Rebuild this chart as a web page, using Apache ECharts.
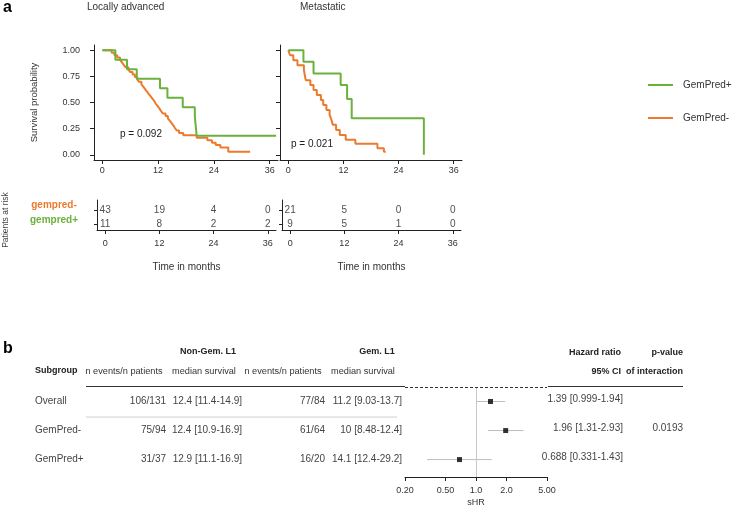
<!DOCTYPE html>
<html><head><meta charset="utf-8">
<script src="https://cdn.jsdelivr.net/npm/echarts@6/dist/echarts.min.js"></script>
<style>html,body{margin:0;padding:0;background:#fff}#c{width:736px;height:508px}</style>
</head><body><div id="c"></div>
<script>
// ================= DATA =================
const timeTicks = [0, 12, 24, 36];
const survTicks = [0, 0.25, 0.5, 0.75, 1];
// Kaplan-Meier steps [month, survival]
const laGemPredPos = [[0,1],[2.8,0.909],[5.3,0.818],[7.4,0.727],[12.4,0.636],[14.0,0.545],[17.3,0.455],[19.9,0.364],[20.1,0.273],[20.3,0.182],[37.4,0.182]];
const laGemPredNeg = [[0,1],[2.0,0.977],[2.6,0.953],[3.2,0.93],[3.8,0.907],[4.2,0.884],[4.6,0.86],[5.0,0.837],[5.6,0.814],[6.0,0.791],[6.5,0.767],[7.0,0.744],[7.5,0.721],[7.9,0.698],[8.4,0.674],[8.8,0.651],[9.2,0.628],[9.6,0.605],[10.0,0.581],[10.4,0.558],[10.8,0.535],[11.2,0.512],[11.5,0.488],[11.9,0.465],[12.3,0.442],[12.6,0.419],[13.0,0.395],[13.6,0.372],[14.1,0.349],[14.5,0.326],[14.9,0.302],[15.3,0.279],[15.6,0.256],[16.0,0.233],[16.5,0.209],[17.4,0.186],[20.3,0.163],[22.6,0.14],[23.6,0.116],[24.4,0.093],[25.4,0.07],[27.1,0.028],[31.8,0.028]];
const metGemPredPos = [[0,1],[3.3,0.889],[5.5,0.778],[11.4,0.667],[12.8,0.533],[13.8,0.35],[29.5,0]];
const metGemPredNeg = [[0,1],[0.4,0.952],[1.1,0.905],[2.0,0.857],[3.4,0.81],[3.8,0.714],[4.8,0.667],[5.5,0.619],[6.2,0.571],[7.1,0.524],[7.6,0.476],[8.3,0.429],[9.0,0.381],[9.4,0.333],[9.7,0.286],[10.4,0.238],[11.2,0.19],[12.5,0.143],[14.6,0.105],[19.4,0.063],[20.8,0.03],[21.2,0.03]];
const pValues = ['p = 0.092', 'p = 0.021'];
// numbers at risk at timeTicks
const riskLaNeg = [43, 19, 4, 0];
const riskLaPos = [11, 8, 2, 2];
const riskMetNeg = [21, 5, 0, 0];
const riskMetPos = [9, 5, 1, 0];
// forest table
const subgroups = ['Overall', 'GemPred-', 'GemPred+'];
const nonGemEvents = ['106/131', '75/94', '31/37'];
const nonGemMedian = ['12.4 [11.4-14.9]', '12.4 [10.9-16.9]', '12.9 [11.1-16.9]'];
const gemEvents = ['77/84', '61/64', '16/20'];
const gemMedian = ['11.2 [9.03-13.7]', '10 [8.48-12.4]', '14.1 [12.4-29.2]'];
const hr = [1.39, 1.96, 0.688];
const hrLow = [0.999, 1.31, 0.331];
const hrHigh = [1.94, 2.93, 1.43];
const pInteraction = ['', '0.0193', ''];
const hrTicks = [0.2, 0.5, 1, 2, 5];
const hrTickLabels = ['0.20', '0.50', '1.0', '2.0', '5.00'];

// ================= STYLE =================
const GREEN = '#6BB13C', ORANGE = '#EC7A2C';
const FONT = 'Liberation Sans, Arial, sans-serif';
const AX = '#222';

const chart = echarts.init(document.getElementById('c'));

function kmX(gi, showLabel) {
  return {
    gridIndex: gi, type: 'value', min: -1.8, max: 37.8,
    axisLine: { show: true, onZero: false, lineStyle: { color: AX, width: 1 } },
    axisTick: { show: true, length: 4, customValues: timeTicks, lineStyle: { color: AX } },
    axisLabel: { show: showLabel, customValues: timeTicks, color: '#333', fontSize: 9, fontFamily: FONT, margin: 6 },
    splitLine: { show: false }
  };
}
function riskX(gi) {
  const a = kmX(gi, true);
  a.axisLabel.margin = 9;
  a.name = 'Time in months';
  a.nameLocation = 'middle';
  a.nameGap = 32;
  a.nameTextStyle = { color: '#333', fontSize: 10, fontFamily: FONT };
  return a;
}
function kmY(gi, showLabel) {
  return {
    gridIndex: gi, type: 'value', min: -0.05, max: 1.05,
    axisLine: { show: true, onZero: false, lineStyle: { color: AX, width: 1 } },
    axisTick: { show: true, length: 4, customValues: survTicks, lineStyle: { color: AX } },
    axisLabel: { show: showLabel, customValues: survTicks, formatter: v => v.toFixed(2), color: '#333', fontSize: 9, fontFamily: FONT, margin: 14 },
    splitLine: { show: false },
    name: showLabel ? 'Survival probability' : '',
    nameLocation: 'middle', nameGap: 55,
    nameTextStyle: { color: '#333', fontSize: 9.5, fontFamily: FONT }
  };
}
function riskY(gi) {
  return {
    gridIndex: gi, type: 'value', min: -0.45, max: 1.8,
    axisLine: { show: true, onZero: false, lineStyle: { color: AX, width: 1 } },
    axisTick: { show: true, length: 3, customValues: [0, 1], lineStyle: { color: AX } },
    axisLabel: { show: false }, splitLine: { show: false }
  };
}
function km(name, data, color, gi) {
  return {
    name, type: 'line', step: 'end', data, xAxisIndex: gi, yAxisIndex: gi,
    showSymbol: false, symbol: 'none', color,
    lineStyle: { color, width: 2 }, silent: true
  };
}
function risk(counts, row, gi) {
  return {
    type: 'scatter', xAxisIndex: gi, yAxisIndex: gi, symbolSize: 1,
    itemStyle: { color: 'rgba(0,0,0,0)' },
    data: counts.map((c, i) => [timeTicks[i], row, c]),
    label: { show: true, position: 'inside', formatter: p => String(p.value[2]), color: '#222', fontSize: 10, fontFamily: FONT },
    silent: true
  };
}
const L10 = Math.log10;

const option = {
  animation: false,
  backgroundColor: '#fff',
  textStyle: { fontFamily: FONT },
  legend: {
    orient: 'vertical', left: 643, top: 75, itemWidth: 25, itemHeight: 2, itemGap: 23,
    icon: 'rect', data: ['GemPred+', 'GemPred-'],
    textStyle: { color: '#333', fontSize: 10, fontFamily: FONT, padding: [0, 0, 0, 5] },
    selectedMode: false
  },
  grid: [
    { left: 94, top: 45, width: 184, height: 115 },
    { left: 280, top: 45, width: 182, height: 115 },
    { left: 97, top: 200, width: 179, height: 30 },
    { left: 282, top: 200, width: 179, height: 30 },
    { left: 405, top: 387, width: 142, height: 90 }
  ],
  xAxis: [
    kmX(0, true), kmX(1, true), riskX(2), riskX(3),
    {
      gridIndex: 4, type: 'value', min: L10(0.2), max: L10(5),
      axisLine: { show: true, onZero: false, lineStyle: { color: AX, width: 1.2 } },
      axisTick: { show: true, length: 4, customValues: hrTicks.map(L10), lineStyle: { color: AX } },
      axisLabel: {
        show: true, customValues: hrTicks.map(L10), margin: 9, color: '#333', fontSize: 9, fontFamily: FONT,
        formatter: v => { let k = 0, b = 1e9; hrTicks.forEach((t, i) => { const d = Math.abs(L10(t) - v); if (d < b) { b = d; k = i; } }); return hrTickLabels[k]; }
      },
      splitLine: { show: false },
      name: 'sHR', nameLocation: 'middle', nameGap: 21,
      nameTextStyle: { color: '#333', fontSize: 9, fontFamily: FONT }
    }
  ],
  yAxis: [
    kmY(0, true), kmY(1, false), riskY(2), riskY(3),
    { gridIndex: 4, type: 'value', min: -0.5, max: 2.6, inverse: true, show: false }
  ],
  series: [
    km('GemPred-', laGemPredNeg, ORANGE, 0),
    km('GemPred+', laGemPredPos, GREEN, 0),
    km('GemPred-', metGemPredNeg, ORANGE, 1),
    km('GemPred+', metGemPredPos, GREEN, 1),
    risk(riskLaNeg, 1, 2), risk(riskLaPos, 0, 2),
    risk(riskMetNeg, 1, 3), risk(riskMetPos, 0, 3),
    {
      type: 'custom', xAxisIndex: 4, yAxisIndex: 4, silent: true,
      data: hr.map((h, i) => [L10(hrLow[i]), L10(hrHigh[i]), i]),
      encode: { x: [0, 1], y: 2 },
      renderItem: (params, api) => {
        const a = api.coord([api.value(0), api.value(2)]);
        const b = api.coord([api.value(1), api.value(2)]);
        return { type: 'line', shape: { x1: a[0], y1: a[1], x2: b[0], y2: b[1] }, style: { stroke: '#bdbdbd', lineWidth: 1 } };
      },
      markLine: {
        silent: true, symbol: 'none', label: { show: false }, animation: false,
        data: [
          { xAxis: L10(0.2), lineStyle: { color: '#cfcfcf', type: [2, 3], width: 1 } },
          { xAxis: L10(5), lineStyle: { color: '#cfcfcf', type: [2, 3], width: 1 } },
          { xAxis: 0, lineStyle: { color: '#c8c8c8', type: 'solid', width: 1 } },
          { yAxis: -0.5, lineStyle: { color: '#333', type: [3, 2], width: 1.2 } }
        ]
      }
    },
    {
      type: 'scatter', xAxisIndex: 4, yAxisIndex: 4, symbol: 'rect', symbolSize: 5,
      itemStyle: { color: '#000' }, silent: true,
      data: hr.map((h, i) => [L10(h), i])
    }
  ]
};
chart.setOption(option);

// ---------- text overlays ----------
function txt(text, x, y, opt) {
  opt = opt || {};
  return {
    type: 'text', x, y, rotation: opt.rot || 0, silent: true,
    style: {
      text, fill: opt.color || '#333', fontSize: opt.size || 10, fontFamily: FONT,
      fontWeight: opt.bold ? 'bold' : 'normal',
      textAlign: opt.align || 'left', textVerticalAlign: 'middle'
    }
  };
}
function hline(x1, x2, y, color, w) {
  return { type: 'line', silent: true, shape: { x1, y1: y, x2, y2: y }, style: { stroke: color, lineWidth: w } };
}
const g = [];
g.push(txt('a', 3, 8, { bold: true, size: 16, color: '#000' }));
g.push(txt('b', 3, 349, { bold: true, size: 16, color: '#000' }));
g.push(txt('Locally advanced', 87, 7, { size: 10 }));
g.push(txt('Metastatic', 300, 7, { size: 10 }));
g.push(txt(pValues[0], 120, 134, { size: 10, color: '#222' }));
g.push(txt(pValues[1], 291, 144, { size: 10, color: '#222' }));
g.push(txt('gempred-', 54, 205, { bold: true, size: 10, color: ORANGE, align: 'center' }));
g.push(txt('gempred+', 54, 220, { bold: true, size: 10, color: GREEN, align: 'center' }));
g.push(txt('Patients at risk', 6, 220, { size: 8.5, color: '#444', align: 'center', rot: Math.PI / 2 }));

// forest table header
const HS = 9.2;
g.push(txt('Non-Gem. L1', 208, 352, { bold: true, size: 9, align: 'center', color: '#222' }));
g.push(txt('Gem. L1', 377, 352, { bold: true, size: 9, align: 'center', color: '#222' }));
g.push(txt('Hazard ratio', 621, 353, { bold: true, size: 9, align: 'right', color: '#222' }));
g.push(txt('p-value', 683, 353, { bold: true, size: 9, align: 'right', color: '#222' }));
g.push(txt('Subgroup', 35, 371, { bold: true, size: 9, color: '#222' }));
g.push(txt('n events/n patients', 124, 371, { size: HS, align: 'center' }));
g.push(txt('median survival', 204, 371, { size: HS, align: 'center' }));
g.push(txt('n events/n patients', 283, 371, { size: HS, align: 'center' }));
g.push(txt('median survival', 363, 371, { size: HS, align: 'center' }));
g.push(txt('95% CI  of interaction', 683, 372, { bold: true, size: 9, align: 'right', color: '#222' }));
g.push(hline(86, 405, 386.5, '#333', 1.2));
g.push(hline(548, 683, 386.5, '#333', 1.2));

subgroups.forEach((s, i) => {
  const y = chart.convertToPixel({ gridIndex: 4 }, [0, i])[1];
  g.push(txt(s, 35, y, { size: 10, color: '#444' }));
  g.push(txt(nonGemEvents[i], 166, y, { size: 10, color: '#444', align: 'right' }));
  g.push(txt(nonGemMedian[i], 242, y, { size: 10, color: '#444', align: 'right' }));
  g.push(txt(gemEvents[i], 325, y, { size: 10, color: '#444', align: 'right' }));
  g.push(txt(gemMedian[i], 402, y, { size: 10, color: '#444', align: 'right' }));
  g.push(txt(hr[i] + ' [' + hrLow[i] + '-' + hrHigh[i] + ']', 623, y - 2, { size: 10, color: '#444', align: 'right' }));
  if (pInteraction[i]) g.push(txt(pInteraction[i], 683, y - 2, { size: 10, color: '#444', align: 'right' }));
});
const ySep = (chart.convertToPixel({ gridIndex: 4 }, [0, 0])[1] + chart.convertToPixel({ gridIndex: 4 }, [0, 1])[1]) / 2;
g.push(hline(86, 397, ySep + 1, '#cfcfcf', 1));

chart.setOption({ graphic: g });
</script>
</body></html>
